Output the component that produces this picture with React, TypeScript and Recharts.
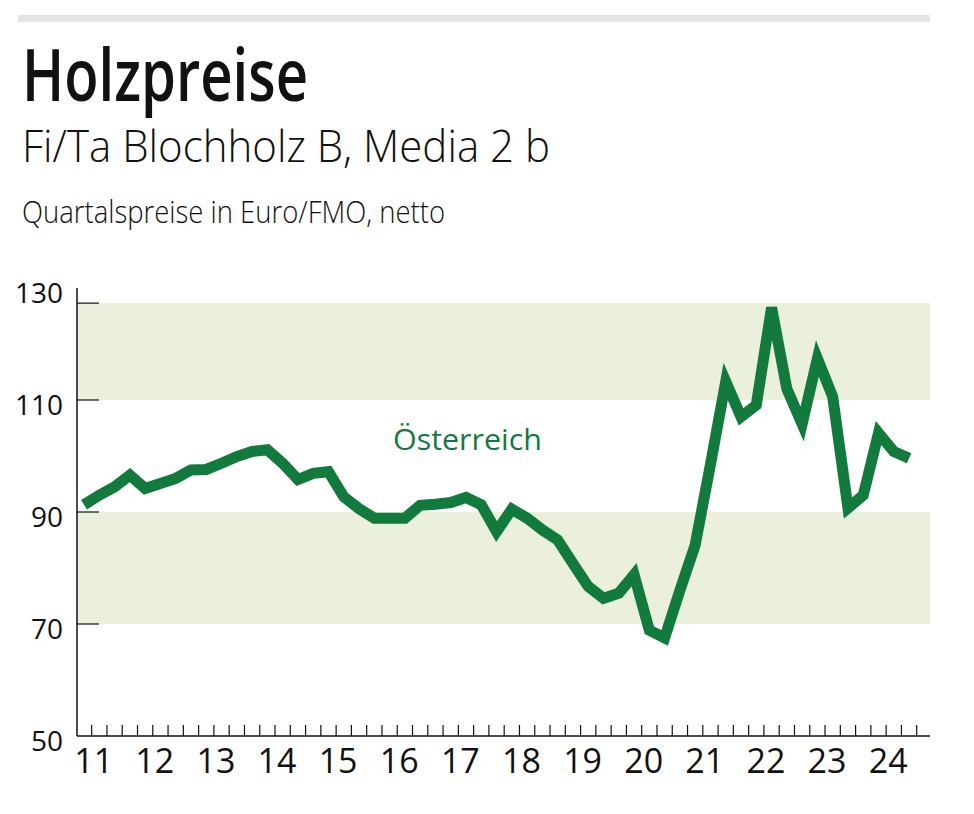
import React from 'react';
import { LineChart, Line, XAxis, YAxis, ReferenceArea, ReferenceLine } from 'recharts';

// Fi/Ta Blochholz B, Media 2b – quarterly prices 2011 Q1 .. 2024 Q3 (Euro/FMO)
const years = ['11', '12', '13', '14', '15', '16', '17', '18', '19', '20', '21', '22', '23', '24'];
const prices = [
  91.3, 93.0, 94.5, 96.6,
  94.2, 95.1, 96.0, 97.5,
  97.6, 98.7, 99.9, 100.8,
  101.1, 98.7, 95.8, 96.9,
  97.2, 92.7, 90.6, 88.9,
  88.9, 88.9, 91.2, 91.4,
  91.7, 92.6, 91.3, 86.5,
  90.5, 88.9, 86.8, 85.0,
  80.8, 76.7, 74.6, 75.5,
  78.8, 68.9, 67.5, 76.0,
  84.1, 98.5, 113.3, 107.0,
  109.1, 126.5, 112.0, 105.7,
  117.4, 110.6, 90.7, 93.0,
  104.1, 100.8, 99.6,
];
const yTicks = [50, 70, 90, 110, 130];
const bands = [
  [70, 90],
  [110, 127.3],
];
const bandEdges = [70, 90, 110, 127.3];

const data = prices.map((price, q) => ({ q, price }));
const quarterTicks = prices.map((_, q) => q + 0.5);
const xDomain = [-0.46, 55.37];

const GREEN = '#137a3d';
const BAND = '#ebf0dc';
const INK = '#111111';
const FONT = '"Open Sans", "Noto Sans", sans-serif';

const XTick = (props: any) => {
  const { x, y, payload } = props;
  const q = payload.value - 0.5;
  const label = q % 4 === 0 ? years[q / 4] : null;
  return (
    <g>
      <line x1={x} x2={x} y1={y} y2={y - 11} stroke={INK} strokeWidth={1.2} />
      {label && (
        <text x={x + 2} y={y + 37} textAnchor="middle" fontSize={34} fill={INK} fontFamily={FONT}>
          {label}
        </text>
      )}
    </g>
  );
};

const YTick = (props: any) => {
  const { x, y, payload } = props;
  return (
    <text x={x - 14} y={y + 15} textAnchor="end" fontSize={28} fill={INK} fontFamily={FONT}>
      {payload.value}
    </text>
  );
};

export default function App() {
  return (
    <div style={{ position: 'absolute', left: 0, top: 0, width: 974, height: 814, background: '#fff' }}>
      <LineChart width={974} height={814} data={data} margin={{ top: 288, right: 44, bottom: 77, left: 76 }}>
        {bands.map(([lo, hi]) => (
          <ReferenceArea key={lo} y1={lo} y2={hi} fill={BAND} fillOpacity={1} stroke="none" />
        ))}
        {bandEdges.map((v) => (
          <ReferenceLine
            key={v}
            segment={[
              { x: xDomain[0], y: v },
              { x: xDomain[0] + 1.44, y: v },
            ]}
            stroke={INK}
            strokeWidth={1.2}
          />
        ))}
        <XAxis
          dataKey="q"
          type="number"
          domain={xDomain}
          ticks={quarterTicks}
          interval={0}
          allowDataOverflow
          height={1}
          tickSize={0}
          tickMargin={0}
          tickLine={false}
          axisLine={{ stroke: INK, strokeWidth: 1.5 }}
          tick={XTick}
        />
        <YAxis
          type="number"
          domain={[50, 130]}
          ticks={yTicks}
          interval={0}
          width={1}
          tickSize={0}
          tickMargin={0}
          tickLine={false}
          axisLine={{ stroke: INK, strokeWidth: 1.5 }}
          tick={YTick}
        />
        <Line
          type="linear"
          dataKey="price"
          stroke={GREEN}
          strokeWidth={11}
          strokeLinejoin="miter"
          dot={false}
          activeDot={false}
          isAnimationActive={false}
        />
      </LineChart>
      <svg
        width={974}
        height={814}
        style={{ position: 'absolute', left: 0, top: 0, pointerEvents: 'none' }}
      >
        <rect x={18} y={15} width={912} height={7} fill="#e5e5e5" />
        <text
          x={22}
          y={101}
          fontSize={72}
          fontWeight={600}
          fill={INK}
          fontFamily={FONT}
          textLength={286}
          lengthAdjust="spacingAndGlyphs"
        >
          Holzpreise
        </text>
        <text
          x={22}
          y={162}
          fontSize={45}
          fontWeight={300}
          fill={INK}
          fontFamily={FONT}
          textLength={528}
          lengthAdjust="spacingAndGlyphs"
        >
          Fi/Ta Blochholz B, Media 2 b
        </text>
        <text
          x={22}
          y={223}
          fontSize={32}
          fontWeight={300}
          fill={INK}
          fontFamily={FONT}
          textLength={423}
          lengthAdjust="spacingAndGlyphs"
        >
          Quartalspreise in Euro/FMO, netto
        </text>
        <text
          x={393}
          y={450}
          fontSize={29}
          fontWeight={500}
          fill={GREEN}
          fontFamily={FONT}
          textLength={149}
          lengthAdjust="spacingAndGlyphs"
        >
          Österreich
        </text>
      </svg>
    </div>
  );
}
